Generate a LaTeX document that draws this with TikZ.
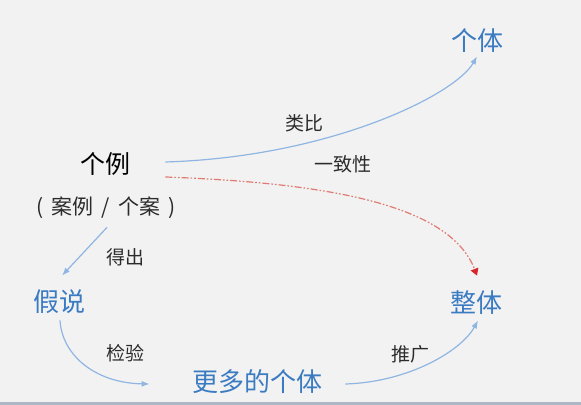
\documentclass[tikz,border=0pt]{standalone}
\usepackage{fontspec}
\setmainfont{Noto Sans CJK SC}
\usetikzlibrary{arrows.meta, calc}
\definecolor{bgcol}{HTML}{F2F2F2}
\definecolor{stripcol}{HTML}{AEB8C4}
\definecolor{termblue}{HTML}{3B7BC2}
\definecolor{lineblue}{HTML}{8FB5E2}
\definecolor{linered}{HTML}{E07A72}
\definecolor{tipred}{HTML}{D8262A}
\definecolor{labelgray}{HTML}{2B2B2B}

\begin{document}
\begin{tikzpicture}[x=0.5pt, y=0.5pt,
    every node/.style={inner sep=2pt, text height=0.93em, text depth=0.07em},
    term/.style={text=termblue, font=\fontsize{13}{13}\selectfont},
    lbl/.style={text=labelgray, font=\fontsize{9.5}{9.5}\selectfont},
    link/.style={lineblue, line width=0.6pt, -{Latex[length=4pt, width=3pt]}},
    guess/.style={linered, line width=0.6pt, dash pattern=on 3.5pt off 1pt on 0.8pt off 1pt on 0.8pt off 1pt,
        -{Triangle[length=3.5pt, width=4pt, fill=tipred, color=tipred]}}]
    % Background
    \fill[bgcol] (0,0) rectangle (581,405);
    \fill[stripcol] (0,0) rectangle (581,3);

    % Terms
    \node[term] (geti) at (477,363) {个体};
    \node[font=\fontsize{12.5}{12.5}\selectfont, text=black] (geli) at (105,240) {个例};
    \node[text=labelgray, font=\fontsize{10.5}{10.5}\selectfont] (anli) at (106,199)
        {(\hspace{4pt}案例\hspace{4pt}/\hspace{4pt}个案\hspace{4pt})};
    \node[term] (jiashuo) at (59,102) {假说};
    \node[term] (zhengti) at (476,101) {整体};
    \node[term] (gengduo) at (257,22) {更多的个体};

    % Labels
    \node[lbl] (leibi) at (304,283) {类比};
    \node[lbl] (yizhi) at (343,242) {一致性};
    \node[lbl] (dechu) at (125,149) {得出};
    \node[lbl] (jianyan) at (125,53) {检验};
    \node[lbl] (tuiguang) at (410,52) {推广};

    % Connectors
    \draw[link] ($(geli.east)+(31,3)$) .. controls (330,248) and (455,310) .. (geti.south);
    \draw[guess] ($(geli.east)+(31,-12)$) .. controls (330,222) and (450,200) .. ($(zhengti.north)+(1,14)$);
    \draw[link] ($(anli.south)+(1,-7)$) -- ($(jiashuo.north)+(3,13)$);
    \draw[link] ($(jiashuo.south)+(1,-3)$) .. controls (62,50) and (95,22) .. ($(gengduo.west)+(-38,-1)$);
    \draw[link] ($(gengduo.east)+(19,-1)$) .. controls (410,23) and (462,55) .. ($(zhengti.south)+(2,-2)$);
\end{tikzpicture}
\end{document}
